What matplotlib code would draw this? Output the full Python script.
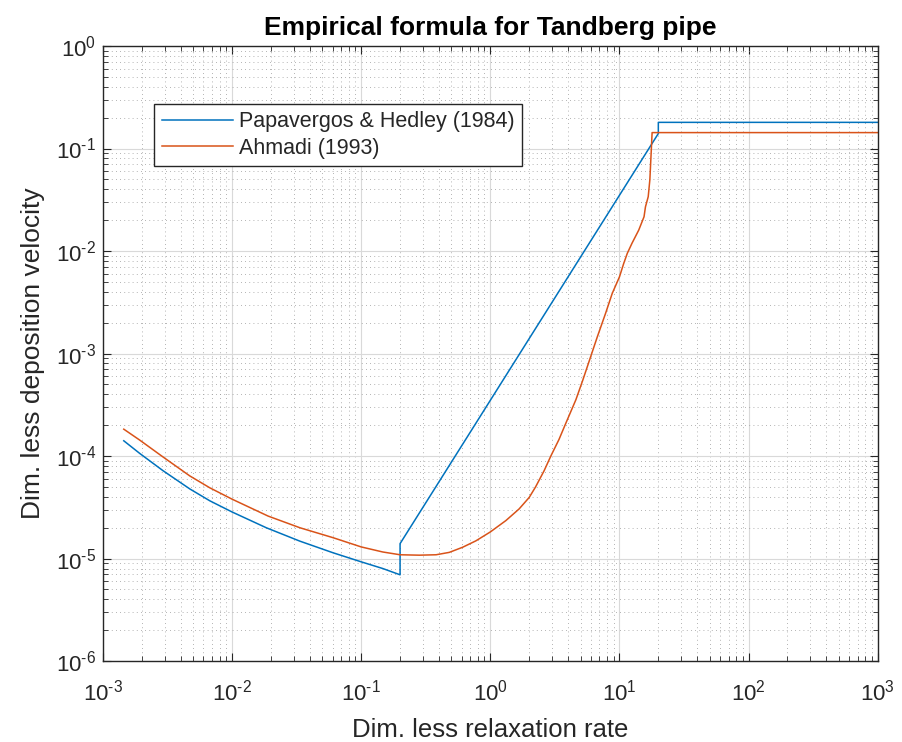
import numpy as np
import matplotlib
matplotlib.use("Agg")
import matplotlib.pyplot as plt
from matplotlib.ticker import FuncFormatter, NullFormatter

# Papavergos & Hedley (1984)
ph_tau = [1.45e-3, 1.93e-3, 2.92e-3, 4.71e-3, 6.73e-3, 1.0e-2, 1.84e-2, 3.35e-2, 6.05e-2, 0.1, 0.147, 0.2,
          0.2, 20.0, 20.0, 1000.0]
ph_vel = [1.41e-4, 1.06e-4, 7.2e-5, 4.78e-5, 3.66e-5, 2.85e-5, 2.0e-5, 1.48e-5, 1.14e-5, 9.3e-6, 8.0e-6, 6.95e-6,
          1.4e-5, 0.14, 0.18, 0.18]

# Ahmadi (1993)
ah_tau = [1.45e-3, 1.93e-3, 2.92e-3, 4.71e-3, 6.73e-3, 1.0e-2, 1.9e-2, 3.35e-2, 6.05e-2, 0.1, 0.147, 0.2,
          0.282, 0.38, 0.481, 0.61, 0.773, 1.0, 1.32, 1.67, 2.0, 2.24, 2.61, 2.94, 3.4, 3.83, 4.6, 5.2, 6.73,
          7.8, 8.79, 10.0, 10.8, 11.5, 12.5, 14.1, 15.5, 15.9, 16.7, 17.2, 17.6, 17.9, 1000.0]
ah_vel = [1.83e-4, 1.43e-4, 9.8e-5, 6.4e-5, 4.9e-5, 3.8e-5, 2.6e-5, 2.0e-5, 1.6e-5, 1.3e-5, 1.16e-5, 1.09e-5,
          1.08e-5, 1.09e-5, 1.15e-5, 1.29e-5, 1.49e-5, 1.82e-5, 2.35e-5, 3.05e-5, 3.95e-5, 5.0e-5, 7.2e-5, 1.0e-4,
          1.45e-4, 2.07e-4, 3.55e-4, 5.5e-4, 1.45e-3, 2.46e-3, 3.86e-3, 5.6e-3, 7.6e-3, 9.5e-3, 1.19e-2, 1.6e-2,
          2.16e-2, 2.7e-2, 3.39e-2, 4.98e-2, 9.1e-2, 0.143, 0.143]

plt.rcParams["font.family"] = ["Liberation Sans", "DejaVu Sans"]
plt.rcParams["mathtext.fontset"] = "custom"
plt.rcParams["mathtext.rm"] = "Liberation Sans"
plt.rcParams["mathtext.it"] = "Liberation Sans:italic"
plt.rcParams["mathtext.bf"] = "Liberation Sans:bold"


def pow10(v, pos):
    e = int(round(np.log10(v)))
    s = str(e).replace("-", "\u2010")
    return "$\\mathregular{10^{%s}}$" % s


fig = plt.figure(figsize=(9.03, 7.42), dpi=100)
ax = fig.add_axes([0.114, 0.109, 0.858, 0.829])

ax.plot(ph_tau, ph_vel, color="#0072BD", lw=1.1, label="Papavergos & Hedley (1984)")
ax.plot(ah_tau, ah_vel, color="#D95319", lw=1.1, label="Ahmadi (1993)")

ax.set_xscale("log")
ax.set_yscale("log")
ax.set_xlim(1e-3, 1e3)
ax.set_ylim(1e-6, 1e0)
ax.xaxis.set_major_formatter(FuncFormatter(pow10))
ax.yaxis.set_major_formatter(FuncFormatter(pow10))
ax.xaxis.set_minor_formatter(NullFormatter())
ax.yaxis.set_minor_formatter(NullFormatter())

ax.grid(True, which="major", color="#d9d9d9", lw=0.8, ls="-")
ax.grid(True, which="minor", color="#9a9a9a", lw=0.6, ls=(0, (1, 4)))
ax.set_axisbelow(True)

ax.tick_params(which="both", direction="in", top=True, right=True, colors="#262626", labelsize=16)
ax.tick_params(which="major", length=6, width=0.8)
ax.tick_params(which="minor", length=3.5, width=0.6)
ax.tick_params(axis="x", pad=13)
ax.tick_params(axis="y", pad=5)
for s in ax.spines.values():
    s.set_color("#262626")
    s.set_linewidth(1.0)

ax.set_xlabel("Dim. less relaxation rate", fontsize=18.5, color="#262626", labelpad=9)
ax.set_ylabel("Dim. less deposition velocity", fontsize=19, color="#262626", labelpad=8)
ax.set_title("Empirical formula for Tandberg pipe", fontsize=19, fontweight="bold", color="#000000", pad=8)

leg = ax.legend(loc="upper left", bbox_to_anchor=(0.066, 0.906), borderaxespad=0, fontsize=15.5,
                frameon=True, fancybox=False, edgecolor="#262626", framealpha=1, handlelength=3.3,
                borderpad=0.35, labelspacing=0.25, handletextpad=0.3)
leg.get_frame().set_linewidth(1.0)
for t in leg.get_texts():
    t.set_color("#262626")

fig.savefig("out.png", dpi=100)
